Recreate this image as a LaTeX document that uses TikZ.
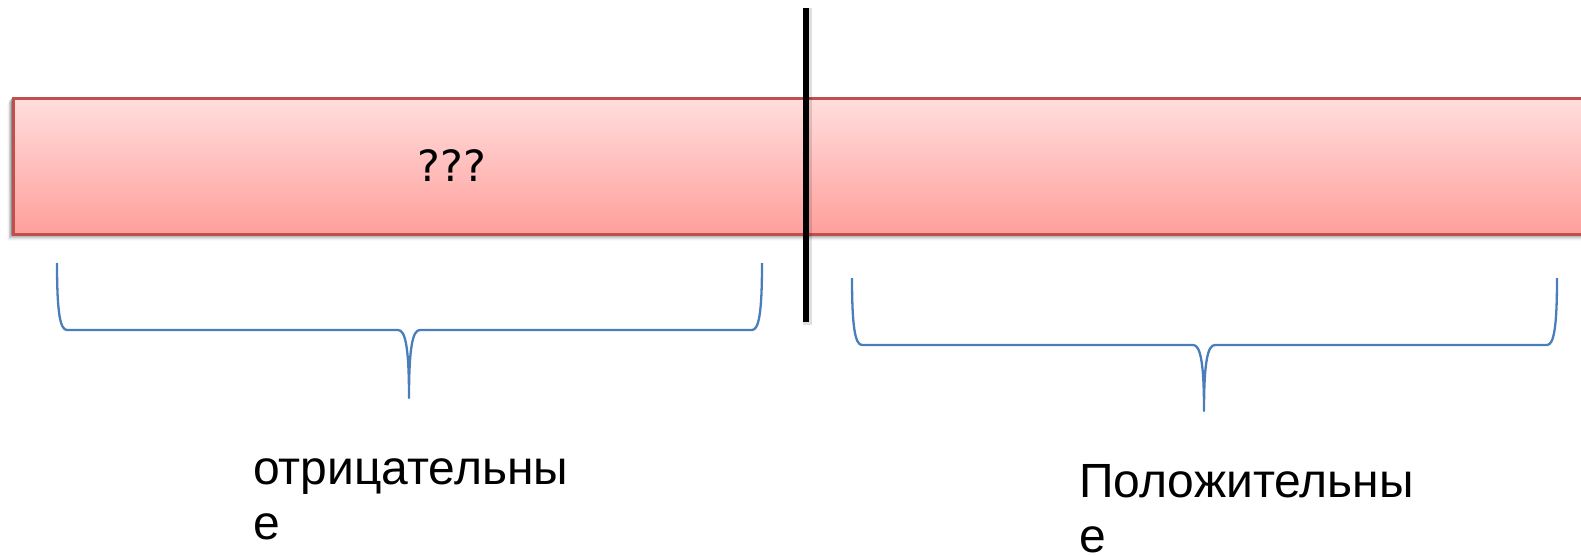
\documentclass[tikz,border=0pt]{standalone}
\usepackage{fontspec}
\setmainfont{Liberation Sans}
\newfontfamily\qfont{DejaVu Sans}
\definecolor{boxred}{HTML}{C0504D}
\definecolor{boxtop}{HTML}{FFDEDD}
\definecolor{boxbot}{HTML}{FF9F9B}
\definecolor{bracecol}{HTML}{4A7EBB}
\tikzset{
  bandbox/.style={draw=boxred, line width=2.6pt, top color=boxtop, bottom color=boxbot, inner sep=0pt, anchor=north west},
  bracepath/.style={draw=bracecol, line width=2.3pt, line join=round},
  divider/.style={line width=6pt, black},
  lbl/.style={font=\fontsize{48}{55}\selectfont, align=left, anchor=base west, inner sep=0pt},
}
\begin{document}
\begin{tikzpicture}[x=1pt,y=-1pt]
\useasboundingbox (0,0) rectangle (1581,556);
\clip (0,0) rectangle (1581,556);
% shadow of the band
\foreach \d/\o in {1/0.14,2/0.12,3/0.10,4/0.08,5/0.06,6/0.04,7/0.02}{
  \fill[black, opacity=\o] (12-\d*0.7,97+\d*0.8) rectangle (1620,234+\d);
}
\node[bandbox, minimum width=1620pt, minimum height=136pt] (band) at (12,97) {};
\node[font=\qfont\fontsize{43}{50}\selectfont, inner sep=0pt] (q) at (452,166) {???};
% divider with light shadow
\coordinate (dtop) at (806,8);
\coordinate (dbot) at (806,322);
\draw[line width=9pt, black, opacity=0.12] ([xshift=1pt]dtop) -- ([xshift=1pt,yshift=-3pt]dbot);
\draw[divider] (dtop) -- (dbot);
% left brace
\coordinate (la) at (57,263);
\coordinate (lb) at (762,263);
\coordinate (lt) at (409,398);
\draw[bracepath] (la) .. controls (57,312) and (60,330) .. (67,330) -- (398,330)
  .. controls (405,330) and (409,345) .. (lt)
  .. controls (409,345) and (413,330) .. (420,330) -- (752,330)
  .. controls (759,330) and (762,312) .. (lb);
% right brace
\coordinate (ra) at (852,278);
\coordinate (rb) at (1557,278);
\coordinate (rt) at (1204,411);
\draw[bracepath] (ra) .. controls (852,326) and (855,345) .. (862,345) -- (1193,345)
  .. controls (1200,345) and (1204,360) .. (rt)
  .. controls (1204,360) and (1208,345) .. (1215,345) -- (1547,345)
  .. controls (1554,345) and (1557,326) .. (rb);
% labels (base anchor = baseline of the last line)
\node[lbl] (neg) at (253,539) {отрицательны\\е};
\node[lbl] (pos) at (1079,552) {Положительны\\е};
\end{tikzpicture}
\end{document}
